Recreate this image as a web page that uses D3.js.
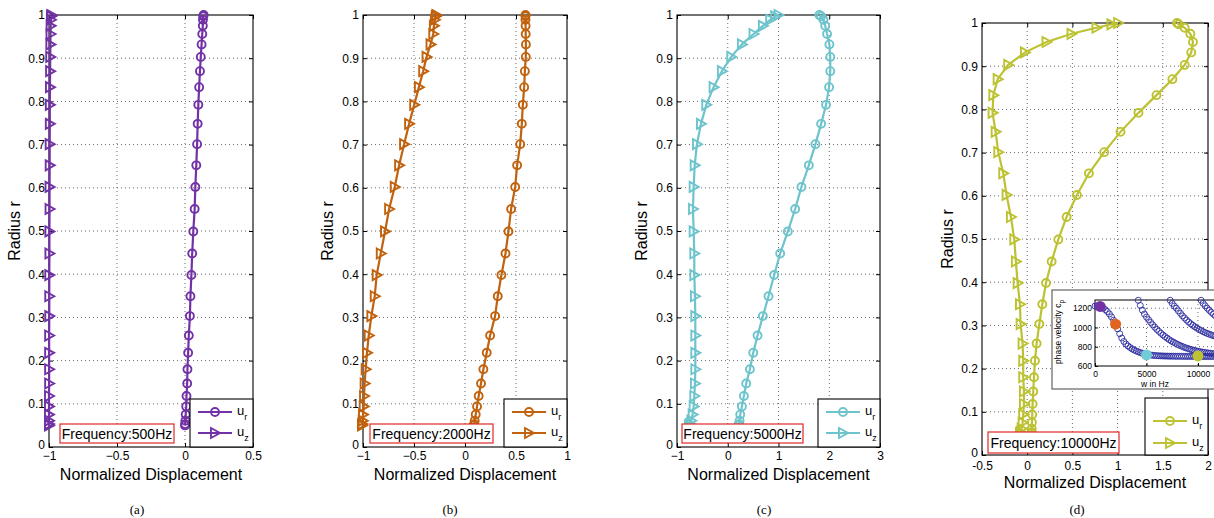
<!DOCTYPE html>
<html>
<head>
<meta charset="utf-8">
<script src="https://cdn.jsdelivr.net/npm/d3@7"></script>
<style>
body { margin: 0; background: #fff; }
text { font-family: "Liberation Sans", Arial, sans-serif; fill: #000; }
.cap { font-family: "Liberation Serif", "Times New Roman", serif; }
</style>
</head>
<body>
<svg id="fig" width="1214" height="518"></svg>
<script>
// radial sample points (same for every panel)
var radius = [1.000, 0.997, 0.989, 0.975, 0.956, 0.932, 0.903, 0.870, 0.833, 0.792,
	0.748, 0.701, 0.652, 0.602, 0.551, 0.499, 0.448, 0.398, 0.349, 0.303,
	0.258, 0.218, 0.180, 0.147, 0.118, 0.094, 0.075, 0.061, 0.053, 0.050];

var ur500 = [0.137, 0.134, 0.132, 0.131, 0.127, 0.122, 0.116, 0.110, 0.104, 0.098,
	0.093, 0.089, 0.083, 0.076, 0.071, 0.061, 0.053, 0.047, 0.040, 0.036,
	0.028, 0.023, 0.018, 0.016, 0.011, 0.009, 0.005, 0.003, 0.001, 0.000];
var uz500 = [-0.983, -0.985, -0.986, -0.988, -0.989, -0.990, -0.991, -0.992, -0.993, -0.994,
	-0.994, -0.995, -0.995, -0.996, -0.996, -0.997, -0.997, -0.998, -0.998, -0.998,
	-0.999, -0.999, -0.999, -0.999, -1.000, -1.000, -1.000, -1.000, -1.000, -1.000];

var ur2000 = [0.593, 0.593, 0.593, 0.594, 0.595, 0.597, 0.596, 0.587, 0.580, 0.567,
	0.557, 0.541, 0.511, 0.492, 0.452, 0.426, 0.397, 0.357, 0.321, 0.295,
	0.246, 0.213, 0.180, 0.157, 0.134, 0.118, 0.105, 0.095, 0.090, 0.085];
var uz2000 = [-0.280, -0.287, -0.295, -0.305, -0.311, -0.338, -0.377, -0.410, -0.452, -0.498,
	-0.548, -0.597, -0.646, -0.689, -0.744, -0.784, -0.826, -0.866, -0.885, -0.918,
	-0.944, -0.961, -0.974, -0.984, -0.990, -0.993, -1.000, -1.003, -1.007, -1.010];

var ur5000 = [1.806, 1.840, 1.885, 1.920, 1.957, 2.003, 2.020, 2.020, 1.997, 1.937,
	1.840, 1.728, 1.597, 1.452, 1.328, 1.184, 1.033, 0.915, 0.803, 0.692,
	0.587, 0.502, 0.436, 0.364, 0.318, 0.279, 0.246, 0.233, 0.220, 0.207];
var uz5000 = [1.000, 0.934, 0.836, 0.692, 0.508, 0.279, 0.069, -0.115, -0.279, -0.423,
	-0.528, -0.607, -0.652, -0.672, -0.685, -0.672, -0.659, -0.659, -0.646, -0.639,
	-0.639, -0.639, -0.639, -0.646, -0.659, -0.672, -0.692, -0.718, -0.740, -0.764];

var ur10000 = [1.657, 1.676, 1.742, 1.805, 1.834, 1.815, 1.742, 1.606, 1.430, 1.231,
	1.032, 0.852, 0.683, 0.550, 0.436, 0.344, 0.270, 0.208, 0.167, 0.134,
	0.104, 0.086, 0.075, 0.067, 0.060, 0.056, 0.052, 0.050, 0.049, 0.048];
var uz10000 = [1.006, 0.932, 0.766, 0.490, 0.214, -0.025, -0.210, -0.327, -0.375, -0.383,
	-0.349, -0.320, -0.265, -0.228, -0.180, -0.143, -0.125, -0.106, -0.080, -0.073,
	-0.051, -0.044, -0.044, -0.036, -0.036, -0.044, -0.051, -0.062, -0.073, -0.080];

var freqLabels = ["Frequency:500Hz", "Frequency:2000Hz", "Frequency:5000Hz", "Frequency:10000Hz"];
var captions = ["(a)", "(b)", "(c)", "(d)"];
var xTicksA = [-1, -0.5, 0, 0.5];
var xTicksB = [-1, -0.5, 0, 0.5, 1];
var xTicksC = [-1, 0, 1, 2, 3];
var xTicksD = [-0.5, 0, 0.5, 1, 1.5, 2];
var yTicks = [0, 0.1, 0.2, 0.3, 0.4, 0.5, 0.6, 0.7, 0.8, 0.9, 1];

// inset: phase velocity dispersion curves, sampled every 200 Hz
var dispStep = 200;
var mode1Start = 0;
var mode1 = [1222, 1221, 1218, 1212, 1200, 1185, 1165, 1140, 1110, 1075,
	1035, 985, 935, 890, 855, 828, 808, 792, 778, 766,
	756, 747, 739, 732, 726, 721, 717, 714, 711, 709,
	707, 706, 705, 704, 703, 703, 702, 702, 702, 701,
	701, 701, 701, 700, 700, 700, 700, 700, 700, 700,
	699, 699, 699, 699, 699, 699, 699, 699, 699, 698, 698];
var mode2Start = 4200;
var mode2 = [1282, 1228, 1180, 1140, 1108, 1080, 1053, 1028, 1003, 980,
	960, 940, 922, 905, 889, 874, 860, 848, 836, 825,
	815, 806, 797, 789, 782, 775, 769, 763, 758, 753,
	749, 745, 741, 738, 735, 732, 729, 727, 725, 723];
var mode3Start = 7300;
var mode3 = [1282, 1250, 1222, 1200, 1172, 1146, 1120, 1098, 1076, 1056,
	1038, 1022, 1007, 993, 980, 968, 957, 947, 938, 930,
	922, 915, 909, 903, 897];
var mode4Start = 10300;
var mode4 = [1282, 1250, 1225, 1200, 1178, 1157, 1138, 1120, 1104, 1090];
var pickFreq = [500, 2000, 5000, 10000];
var pickVel = [1218, 1034, 715, 705];
var insetXTicks = [0, 5000, 10000];
var insetYTicks = [600, 800, 1000, 1200];

var colors = ["#7232a6", "#c0620e", "#6ec4cc", "#bcc232"];
var pickColors = ["#7232a6", "#e0641e", "#72ccd4", "#bcc232"];

var dataSets = [
	{ ur: ur500, uz: uz500, ticks: xTicksA, dom: [-1, 0.5] },
	{ ur: ur2000, uz: uz2000, ticks: xTicksB, dom: [-1, 1] },
	{ ur: ur5000, uz: uz5000, ticks: xTicksC, dom: [-1, 3] },
	{ ur: ur10000, uz: uz10000, ticks: xTicksD, dom: [-0.5, 2] }
];

// layout of each panel (pixels)
var layout = [
	{ l: 49, r: 253, t: 15, b: 447, ylabX: 20, xlabY: 480, xpad: 4, capX: 137, box: [60, 424, 114, 19], leg: [190, 399, 63, 48], legY: [13, 34], minus: "\u2212" },
	{ l: 363, r: 567, t: 15, b: 447, ylabX: 333, xlabY: 480, xpad: 4, capX: 450, box: [370, 424, 123, 19], leg: [504, 399, 63, 48], legY: [13, 34], minus: "\u2212" },
	{ l: 677, r: 880, t: 15, b: 447, ylabX: 647, xlabY: 480, xpad: 4, capX: 764, box: [682, 424, 121, 19], leg: [818, 399, 62, 48], legY: [13, 34], minus: "\u2212" },
	{ l: 982, r: 1208, t: 23, b: 455, ylabX: 953, xlabY: 488, xpad: 6, capX: 1077, box: [988, 432, 131, 21], leg: [1145, 398, 63, 57], legY: [23, 45], minus: "-" }
];

var svg = d3.select("#fig");

function fmtTick(minus) {
	return function (d) { return (d < 0 ? minus : "") + Math.abs(d); };
}

function triangle(size) {
	return "M" + (-size * 0.8) + "," + (-size) + "L" + size + ",0L" + (-size * 0.8) + "," + size + "Z";
}

function drawPanel(L, D, i) {
	var g = svg.append("g");
	var x = d3.scaleLinear().domain(D.dom).range([L.l, L.r]);
	var y = d3.scaleLinear().domain([0, 1]).range([L.b, L.t]);
	var col = colors[i];

	// dotted grid
	g.selectAll(".gx").data(D.ticks.filter(function (d) { return d > D.dom[0] && d < D.dom[1]; }))
		.enter().append("line")
		.attr("x1", function (d) { return x(d); }).attr("x2", function (d) { return x(d); })
		.attr("y1", L.t).attr("y2", L.b)
		.attr("stroke", "#444").attr("stroke-width", 0.8).attr("stroke-dasharray", "1,3");
	g.selectAll(".gy").data(yTicks.filter(function (d) { return d > 0 && d < 1; }))
		.enter().append("line")
		.attr("x1", L.l).attr("x2", L.r)
		.attr("y1", function (d) { return y(d); }).attr("y2", function (d) { return y(d); })
		.attr("stroke", "#444").attr("stroke-width", 0.8).attr("stroke-dasharray", "1,3");

	// axes with inward ticks on all four sides
	var xb = g.append("g").attr("transform", "translate(0," + L.b + ")")
		.call(d3.axisBottom(x).tickValues(D.ticks).tickSizeInner(-4).tickSizeOuter(0).tickPadding(L.xpad).tickFormat(fmtTick(L.minus)));
	var xt = g.append("g").attr("transform", "translate(0," + L.t + ")")
		.call(d3.axisTop(x).tickValues(D.ticks).tickSizeInner(-4).tickSizeOuter(0).tickFormat(""));
	var yl = g.append("g").attr("transform", "translate(" + L.l + ",0)")
		.call(d3.axisLeft(y).tickValues(yTicks).tickSizeInner(-4).tickSizeOuter(0).tickPadding(4).tickFormat(d3.format("")));
	var yr = g.append("g").attr("transform", "translate(" + L.r + ",0)")
		.call(d3.axisRight(y).tickValues(yTicks).tickSizeInner(-4).tickSizeOuter(0).tickFormat(""));
	[xb, xt, yl, yr].forEach(function (a) {
		a.select(".domain").remove();
		a.selectAll("text").attr("font-size", 12).attr("font-family", "Liberation Sans, Arial, sans-serif").attr("fill", "#111");
		a.selectAll("line").attr("stroke", "#000");
	});
	// lift the y "0" label a little so it clears the first x label
	yl.selectAll(".tick text").filter(function (d) { return d === 0; }).attr("dy", "0.1em");
	g.append("rect").attr("x", L.l).attr("y", L.t).attr("width", L.r - L.l).attr("height", L.b - L.t)
		.attr("fill", "none").attr("stroke", "#000").attr("stroke-width", 1.1);

	// axis titles
	g.append("text").attr("x", (L.l + L.r) / 2).attr("y", L.xlabY).attr("text-anchor", "middle")
		.attr("font-size", 16).text("Normalized Displacement");
	g.append("text").attr("transform", "translate(" + L.ylabX + "," + ((L.t + L.b) / 2) + ") rotate(-90)")
		.attr("text-anchor", "middle").attr("font-size", 16).text("Radius r");
	g.append("text").attr("class", "cap").attr("x", L.capX).attr("y", 514).attr("text-anchor", "middle")
		.attr("font-size", 13).text(captions[i]);

	// curves
	var line = d3.line().x(function (d) { return x(d[0]); }).y(function (d) { return y(d[1]); });
	var urPts = D.ur.map(function (v, k) { return [v, radius[k]]; });
	var uzPts = D.uz.map(function (v, k) { return [v, radius[k]]; });
	[urPts, uzPts].forEach(function (pts) {
		g.append("path").attr("d", line(pts)).attr("fill", "none").attr("stroke", col).attr("stroke-width", 2.2);
	});
	g.selectAll(".mc").data(urPts).enter().append("circle")
		.attr("cx", function (d) { return x(d[0]); }).attr("cy", function (d) { return y(d[1]); })
		.attr("r", 4).attr("fill", "none").attr("stroke", col).attr("stroke-width", 1.9);
	g.selectAll(".mt").data(uzPts).enter().append("path")
		.attr("d", triangle(5))
		.attr("transform", function (d) { return "translate(" + x(d[0]) + "," + y(d[1]) + ")"; })
		.attr("fill", "none").attr("stroke", col).attr("stroke-width", 1.9).attr("stroke-linejoin", "miter");

	// frequency box
	g.append("rect").attr("x", L.box[0]).attr("y", L.box[1]).attr("width", L.box[2]).attr("height", L.box[3])
		.attr("fill", "#fff").attr("stroke", "#e02828").attr("stroke-width", 1.2);
	g.append("text").attr("x", L.box[0] + L.box[2] / 2).attr("y", L.box[1] + L.box[3] / 2 + 5)
		.attr("text-anchor", "middle").attr("font-size", 14).attr("fill", "#111").text(freqLabels[i]);

	// legend
	var lg = g.append("g").attr("transform", "translate(" + L.leg[0] + "," + L.leg[1] + ")");
	lg.append("rect").attr("width", L.leg[2]).attr("height", L.leg[3]).attr("fill", "#fff")
		.attr("stroke", "#000").attr("stroke-width", 1.1);
	["r", "z"].forEach(function (sub, k) {
		var ly = L.legY[k];
		lg.append("line").attr("x1", 8).attr("x2", 42).attr("y1", ly).attr("y2", ly)
			.attr("stroke", col).attr("stroke-width", 2.2);
		if (k === 0) {
			lg.append("circle").attr("cx", 25).attr("cy", ly).attr("r", 4).attr("fill", "none")
				.attr("stroke", col).attr("stroke-width", 1.9);
		} else {
			lg.append("path").attr("d", triangle(5)).attr("transform", "translate(25," + ly + ")")
				.attr("fill", "none").attr("stroke", col).attr("stroke-width", 1.9);
		}
		var t = lg.append("text").attr("x", 47).attr("y", ly + 3).attr("font-size", 13).attr("fill", "#222");
		t.append("tspan").text("u");
		t.append("tspan").attr("font-size", 9).attr("dy", 5).text(sub);
	});
}

for (var i = 0; i < 4; i++) drawPanel(layout[i], dataSets[i], i);

// inset in panel (d)
var inset = svg.append("g");
inset.append("rect").attr("x", 1052).attr("y", 290).attr("width", 180).attr("height", 99)
	.attr("fill", "#fff").attr("stroke", "#555").attr("stroke-width", 1.1);
var ix = d3.scaleLinear().domain([0, 11750]).range([1095, 1216]);
var iy = d3.scaleLinear().domain([600, 1285]).range([366, 300]);

insetXTicks.filter(function (d) { return d > 0; }).forEach(function (d) {
	inset.append("line").attr("x1", ix(d)).attr("x2", ix(d)).attr("y1", 300).attr("y2", 366)
		.attr("stroke", "#444").attr("stroke-width", 0.8).attr("stroke-dasharray", "1,3");
});
insetYTicks.filter(function (d) { return d > 600; }).forEach(function (d) {
	inset.append("line").attr("x1", 1095).attr("x2", 1216).attr("y1", iy(d)).attr("y2", iy(d))
		.attr("stroke", "#444").attr("stroke-width", 0.8).attr("stroke-dasharray", "1,3");
});
var ixa = inset.append("g").attr("transform", "translate(0,366)")
	.call(d3.axisBottom(ix).tickValues(insetXTicks).tickSizeInner(-3).tickSizeOuter(0).tickPadding(5).tickFormat(d3.format("")));
var iya = inset.append("g").attr("transform", "translate(1095,0)")
	.call(d3.axisLeft(iy).tickValues(insetYTicks).tickSizeInner(-3).tickSizeOuter(0).tickPadding(3).tickFormat(d3.format("")));
[ixa, iya].forEach(function (a) {
	a.select(".domain").remove();
	a.selectAll("text").attr("font-size", 8.5).attr("font-family", "Liberation Sans, Arial, sans-serif").attr("fill", "#222");
});
inset.append("rect").attr("x", 1095).attr("y", 300).attr("width", 121).attr("height", 66)
	.attr("fill", "none").attr("stroke", "#000").attr("stroke-width", 1);
inset.append("text").attr("x", 1155).attr("y", 387).attr("text-anchor", "middle").attr("font-size", 8.5)
	.attr("fill", "#222").text("w in Hz");
var ylab = inset.append("text").attr("transform", "translate(1061,332) rotate(-90)").attr("text-anchor", "middle")
	.attr("font-size", 8.5).attr("fill", "#222");
ylab.append("tspan").text("phase velocity c");
ylab.append("tspan").attr("font-size", 6.5).attr("dy", 2.5).text("p");

var modes = [[mode1Start, mode1], [mode2Start, mode2], [mode3Start, mode3], [mode4Start, mode4]];
modes.forEach(function (m) {
	var pts = m[1].map(function (v, k) { return [m[0] + k * dispStep, v]; });
	inset.selectAll(null).data(pts).enter().append("circle")
		.attr("cx", function (d) { return ix(d[0]); }).attr("cy", function (d) { return iy(d[1]); })
		.attr("r", 3).attr("fill", "none").attr("stroke", "#2d2da0").attr("stroke-width", 0.9);
});
inset.selectAll(".pick").data(pickFreq).enter().append("circle")
	.attr("cx", function (d) { return ix(d); })
	.attr("cy", function (d, k) { return iy(pickVel[k]); })
	.attr("r", 5.5).attr("fill", function (d, k) { return pickColors[k]; });
</script>
</body>
</html>
